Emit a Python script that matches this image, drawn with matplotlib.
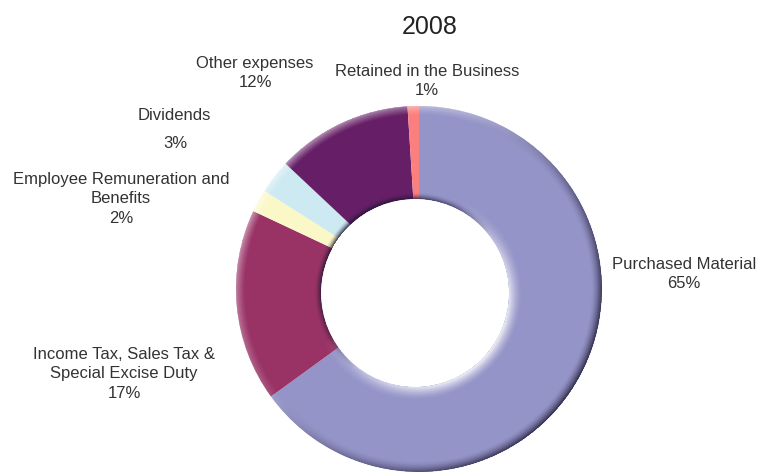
import numpy as np
import matplotlib.pyplot as plt
from matplotlib.patches import Circle

plt.rcParams['font.family'] = ['Liberation Sans', 'DejaVu Sans']

# 2008 distribution, clockwise from 12 o'clock
categories = ['Purchased Material', 'Income Tax, Sales Tax &\nSpecial Excise Duty',
              'Employee Remuneration and\nBenefits', 'Dividends',
              'Other expenses', 'Retained in the Business']
shares = [65, 17, 2, 3, 12, 1]
colors = ['#9494c8', '#993366', '#fbf8c8', '#cde9f1', '#661f66', '#fc7f7f']

W, H = 762, 477
CX, CY, R = 419, 290, 183        # outer disc
HX, HY, HR = 415, 294, 94        # hole, nudged off-centre for the bevel


def rim(dist, edge, width, inward):
    # 1 at the edge, fading to 0 over `width` pixels
    if inward:
        t = (edge - dist) / width
    else:
        t = (dist - edge) / width
    return np.where((t >= 0) & (t <= 1), (1 - np.clip(t, 0, 1)), 0.0)


def facing(angle, direction, spread=0.0):
    k = np.cos(angle - np.radians(direction))
    return np.clip((k + spread) / (1 + spread), 0, 1)


fig = plt.figure(figsize=(W / 100, H / 100), dpi=100)
ax = fig.add_axes([0, 0, 1, 1])

# y axis points down, so counterclock in data space runs clockwise on screen
ax.pie(shares, colors=colors, startangle=-90, counterclock=True,
       center=(CX, CY), radius=R, frame=True,
       wedgeprops=dict(linewidth=0))
ax.add_patch(Circle((HX, HY), HR, facecolor='white', edgecolor='none', zorder=3))

# bevel shading computed per pixel
yy, xx = np.mgrid[0:H, 0:W] + 0.5
d = np.hypot(xx - CX, yy - CY)
ang = np.arctan2(yy - CY, xx - CX)
dh = np.hypot(xx - HX, yy - HY)
angh = np.arctan2(yy - HY, xx - HX)
inside = np.clip(R - d + 0.5, 0, 1) * np.clip(dh - HR + 0.5, 0, 1)

dark = 0.85 * facing(ang, 35, 0.35) * rim(d, R, 11, True) ** 1.6
dark = np.maximum(dark, 0.92 * facing(angh, -135, 0.1) ** 0.6 * rim(dh, HR, 7, False) ** 1.8)
light = 0.5 * facing(ang, -135, 0.2) * rim(d, R, 9, True) ** 1.2
light = np.maximum(light, 0.9 * facing(angh, 45, 0.3) ** 0.8 * rim(dh, HR, 13, False) ** 1.5)

dark_img = np.zeros((H, W, 4))
dark_img[..., :3] = np.array([28, 22, 48]) / 255
dark_img[..., 3] = dark * inside
light_img = np.ones((H, W, 4))
light_img[..., 3] = light * inside
ax.imshow(dark_img, extent=(0, W, H, 0), interpolation='bilinear', zorder=4)
ax.imshow(light_img, extent=(0, W, H, 0), interpolation='bilinear', zorder=5)

ax.set_xlim(0, W)
ax.set_ylim(H, 0)
ax.set_aspect('equal')
ax.axis('off')

ax.text(430, 27, '2008', ha='center', va='center', fontsize=18, color='#222222')

tc = '#333333'
fs = 12
ls = 1.35
ax.text(684, 274, 'Purchased Material\n65%', ha='center', va='center',
        fontsize=fs, color=tc, linespacing=ls)
ax.text(124, 374, 'Income Tax, Sales Tax &\nSpecial Excise Duty\n17%', ha='center', va='center',
        fontsize=fs, color=tc, linespacing=ls)
ax.text(121, 199, 'Employee Remuneration and\nBenefits\n2%', ha='center', va='center',
        fontsize=fs, color=tc, linespacing=ls)
ax.text(174, 116, 'Dividends', ha='center', va='center', fontsize=fs, color=tc)
ax.text(175, 144, '3%', ha='center', va='center', fontsize=fs, color=tc)
ax.text(255, 73, 'Other expenses\n12%', ha='center', va='center',
        fontsize=fs, color=tc, linespacing=ls)
ax.text(427, 81, 'Retained in the Business\n1%', ha='center', va='center',
        fontsize=fs, color=tc, linespacing=ls)

fig.savefig('out.png', dpi=100)
